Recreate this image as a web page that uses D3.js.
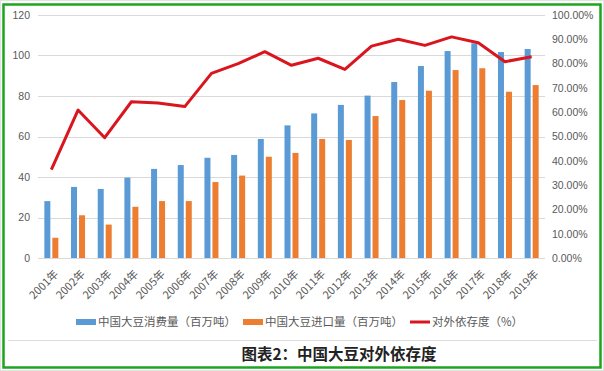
<!DOCTYPE html>
<html>
<head>
<meta charset="utf-8">
<script src="https://cdn.jsdelivr.net/npm/d3@7"></script>
<style>
  html, body { margin: 0; padding: 0; background: #fff; }
  svg { display: block; font-family: "Noto Sans CJK SC", "Microsoft YaHei", sans-serif; }
</style>
</head>
<body>
<svg id="chart" width="604" height="371"></svg>
<script>
const years = ["2001年", "2002年", "2003年", "2004年", "2005年", "2006年", "2007年", "2008年", "2009年", "2010年",
  "2011年", "2012年", "2013年", "2014年", "2015年", "2016年", "2017年", "2018年", "2019年"];
const consumption = [28.1, 35.1, 34.1, 39.7, 44.0, 45.9, 49.5, 50.9, 58.8, 65.5,
  71.4, 75.6, 80.2, 86.9, 94.8, 102.2, 106.0, 101.7, 103.2];
const imports = [10.0, 21.1, 16.5, 25.3, 28.1, 28.1, 37.5, 40.7, 50.0, 51.9,
  58.8, 58.3, 70.1, 78.0, 82.6, 92.8, 93.7, 82.1, 85.4];
const dependency = [36.4, 60.9, 49.5, 64.3, 63.8, 62.3, 76.0, 80.0, 84.9, 79.3,
  82.2, 77.6, 87.2, 90.0, 87.5, 91.0, 88.6, 80.8, 82.8];
const leftTicks = [0, 20, 40, 60, 80, 100, 120];
const rightTicks = [0, 10, 20, 30, 40, 50, 60, 70, 80, 90, 100];
const legendItems = [
  { label: "中国大豆消费量（百万吨）", color: "#5B9BD5", type: "bar" },
  { label: "中国大豆进口量（百万吨）", color: "#ED7D31", type: "bar" },
  { label: "对外依存度（%）", color: "#D9161E", type: "line" }
];
const title = "图表2：中国大豆对外依存度";

const svg = d3.select("#chart");
const plot = { left: 38, right: 545, top: 15, bottom: 258 };

const x = d3.scaleBand().domain(years).range([plot.left, plot.right]).paddingInner(0).paddingOuter(0);
const yLeft = d3.scaleLinear().domain([0, 120]).range([plot.bottom, plot.top]);
const yRight = d3.scaleLinear().domain([0, 100]).range([plot.bottom, plot.top]);

// frame
svg.append("rect").attr("x", 0.5).attr("y", 0.5).attr("width", 603).attr("height", 370)
  .attr("fill", "none").attr("stroke", "#e3e3e3");
svg.append("rect").attr("x", 3.5).attr("y", 4.5).attr("width", 597).attr("height", 363)
  .attr("fill", "none").attr("stroke", "#1ea51e").attr("stroke-width", 2.5);
svg.append("line").attr("x1", 8).attr("x2", 597).attr("y1", 340.5).attr("y2", 340.5)
  .attr("stroke", "#dcdcdc");

// gridlines
svg.append("g").selectAll("line").data(leftTicks).join("line")
  .attr("x1", plot.left).attr("x2", plot.right)
  .attr("y1", (d) => Math.round(yLeft(d)) + 0.5).attr("y2", (d) => Math.round(yLeft(d)) + 0.5)
  .attr("stroke", "#d9d9d9").attr("stroke-width", 1);

// left axis
const leftAxis = svg.append("g").attr("transform", `translate(${plot.left - 8},0)`)
  .call(d3.axisLeft(yLeft).tickValues(leftTicks).tickSize(0).tickPadding(0));
leftAxis.select(".domain").remove();
leftAxis.selectAll("text").attr("fill", "#595959").attr("font-size", 10.5)
  .attr("font-family", "Liberation Sans, Arial, sans-serif");

// right axis
const rightAxis = svg.append("g").attr("transform", `translate(${plot.right + 7},0)`)
  .call(d3.axisRight(yRight).tickValues(rightTicks).tickSize(0).tickPadding(0)
    .tickFormat((d) => d.toFixed(2) + "%"));
rightAxis.select(".domain").remove();
rightAxis.selectAll("text").attr("fill", "#595959").attr("font-size", 10.5)
  .attr("font-family", "Liberation Sans, Arial, sans-serif");

// bars
const barW = 6;
svg.append("g").selectAll("rect").data(consumption).join("rect")
  .attr("x", (d, i) => x(years[i]) + x.bandwidth() / 2 - barW - 1)
  .attr("y", (d) => yLeft(d))
  .attr("width", barW)
  .attr("height", (d) => yLeft(0) - yLeft(d))
  .attr("fill", "#5B9BD5");
svg.append("g").selectAll("rect").data(imports).join("rect")
  .attr("x", (d, i) => x(years[i]) + x.bandwidth() / 2 + 1)
  .attr("y", (d) => yLeft(d))
  .attr("width", barW)
  .attr("height", (d) => yLeft(0) - yLeft(d))
  .attr("fill", "#ED7D31");

// dependency line
const line = d3.line()
  .x((d, i) => x(years[i]) + x.bandwidth() / 2)
  .y((d) => yRight(d));
svg.append("path").datum(dependency)
  .attr("d", line)
  .attr("fill", "none")
  .attr("stroke", "#D9161E")
  .attr("stroke-width", 3)
  .attr("stroke-linejoin", "round");

// x labels
svg.append("g").selectAll("text").data(years).join("text")
  .attr("transform", (d) => `translate(${x(d) + x.bandwidth() / 2 + 5},${plot.bottom + 14}) rotate(-45)`)
  .attr("text-anchor", "end")
  .attr("dy", "0.35em")
  .attr("fill", "#595959")
  .attr("font-size", 11)
  .text((d) => d);

// legend
const legend = svg.append("g").attr("transform", "translate(76,322)");
let lx = 0;
legendItems.forEach((item) => {
  const g = legend.append("g").attr("transform", `translate(${lx},0)`);
  if (item.type === "bar") {
    g.append("rect").attr("x", 0).attr("y", -3).attr("width", 20).attr("height", 6).attr("fill", item.color);
  } else {
    g.append("line").attr("x1", 0).attr("x2", 20).attr("y1", 0).attr("y2", 0)
      .attr("stroke", item.color).attr("stroke-width", 3);
  }
  const t = g.append("text").attr("x", 22).attr("dy", "0.35em")
    .attr("fill", "#595959").attr("font-size", 11.5).text(item.label);
  lx += 22 + t.node().getComputedTextLength() + 7;
});

// title
svg.append("text").attr("x", 339).attr("y", 355).attr("dy", "0.35em")
  .attr("text-anchor", "middle").attr("font-size", 15.5).attr("font-weight", "bold")
  .attr("fill", "#222").text(title);
</script>
</body>
</html>
